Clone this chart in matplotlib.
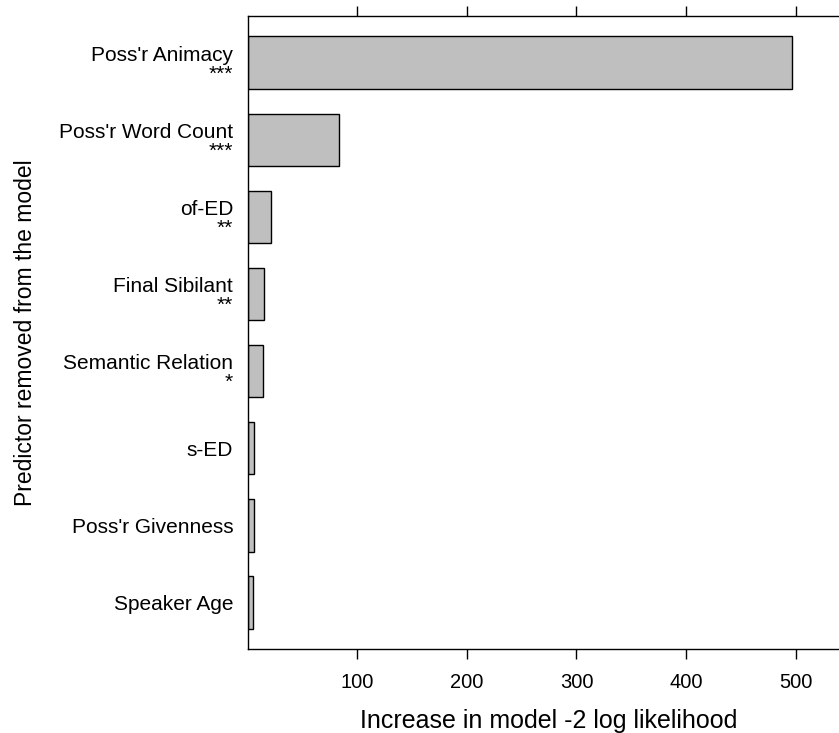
import matplotlib.pyplot as plt
import numpy as np

plt.rcParams['font.family'] = ['Liberation Sans', 'DejaVu Sans']

# predittori, dal basso verso l'alto come nel grafico
predittori = ["Speaker Age", "Poss'r Givenness", "s-ED", "Semantic Relation",
              "Final Sibilant", "of-ED", "Poss'r Word Count", "Poss'r Animacy"]
stelle = ["", "", "", "*", "**", "**", "***", "***"]
aumento = [4.7, 6.0, 6.0, 13.6, 15.1, 21.2, 83.4, 497.0]
tick_x = [100, 200, 300, 400, 500]

W, H = 839, 733
fig = plt.figure(figsize=(W / 100, H / 100), dpi=100)
# assi in pixel: sinistra 247.8, larghezza 602 (esce dal bordo destro)
ax = fig.add_axes([247.8 / W, 84.3 / H, 602 / W, 632.3 / H])

y = np.arange(1, len(predittori) + 1)
ax.barh(y, aumento, height=0.68, color='#bfbfbf', edgecolor='black', linewidth=1.0)

ax.set_xlim(0, 549.5)
ax.set_ylim(0.4, len(predittori) + 0.6)

etichette = [p + ("\n" + s if s else "") for p, s in zip(predittori, stelle)]
ax.set_yticks(y)
ax.set_yticklabels(etichette, fontsize=15)
for lbl in ax.get_yticklabels():
    lbl.set_linespacing(1.0)
    lbl.set_multialignment('right')
ax.tick_params(axis='y', length=0, pad=10.5)

ax.set_xticks(tick_x)
ax.set_xticklabels([str(t) for t in tick_x], fontsize=14.5)
ax.tick_params(axis='x', which='both', top=True, bottom=True, direction='out',
               length=7.5, width=1.0, pad=10)

for side in ['left', 'bottom', 'top']:
    ax.spines[side].set_linewidth(1.0)
ax.spines['right'].set_visible(False)

ax.set_xlabel("Increase in model -2 log likelihood", fontsize=18)
ax.xaxis.label.set_va('baseline')
ax.xaxis.set_label_coords(0.5, -0.1254)
ax.set_ylabel("Predictor removed from the model", fontsize=16.5)
ax.yaxis.set_label_coords(-0.350, 0.5)

fig.savefig("out.png", dpi=100)
